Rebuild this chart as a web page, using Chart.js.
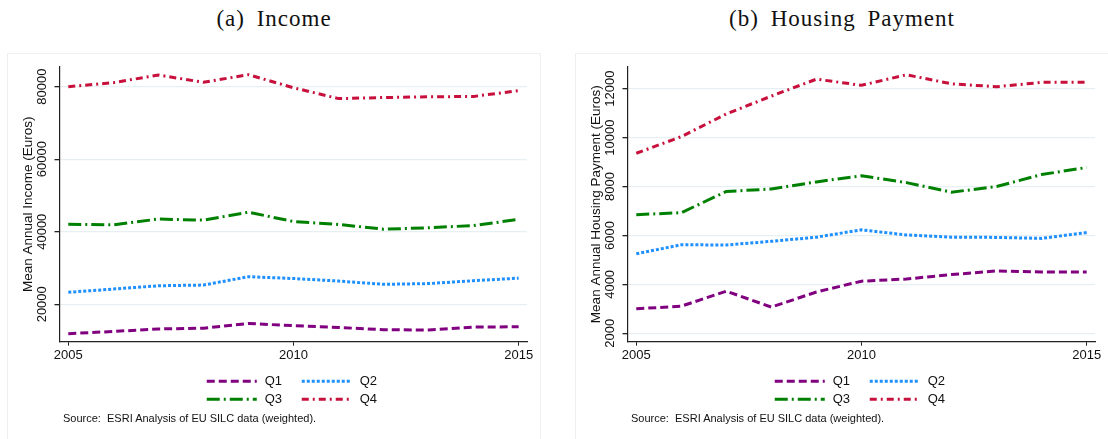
<!DOCTYPE html>
<html>
<head>
<meta charset="utf-8">
<script src="https://cdn.jsdelivr.net/npm/chart.js@4.4.1/dist/chart.umd.min.js"></script>
<style>
  body { margin: 0; width: 1108px; height: 439px; overflow: hidden; background: #fff; position: relative; }
  .title { position: absolute; top: 6px; width: 534px; text-align: center; font-family: "Liberation Serif", serif; font-size: 23px; letter-spacing: 1px; word-spacing: 5px; color: #111; white-space: pre; }
  .panel { position: absolute; top: 53px; width: 534px; height: 400px; border: 1px solid #efefef; box-sizing: border-box; }
  .box { position: absolute; top: 54px; width: 534px; height: 385px; }
  .source { position: absolute; top: 412px; font-family: "Liberation Sans", Arial, sans-serif; font-size: 11px; color: #111; white-space: pre; }
</style>
</head>
<body>
<div class="title" style="left:7px">(a) Income</div>
<div class="title" style="left:575px">(b) Housing Payment</div>
<div class="panel" style="left:7px"></div>
<div class="panel" style="left:575px"></div>
<div class="box" style="left:7px"><canvas id="Income" width="534" height="385"></canvas></div>
<div class="box" style="left:575px"><canvas id="Housing" width="534" height="385"></canvas></div>
<div class="source" style="left:63px">Source:  ESRI Analysis of EU SILC data (weighted).</div>
<div class="source" style="left:631px">Source:  ESRI Analysis of EU SILC data (weighted).</div>
<script>
// data
const years = [2005, 2006, 2007, 2008, 2009, 2010, 2011, 2012, 2013, 2014, 2015];
const xTicks = [2005, 2010, 2015];

const incomeQ1 = [11900, 12500, 13200, 13400, 14700, 14100, 13600, 13000, 12900, 13700, 13800];
const incomeQ2 = [23300, 24200, 25100, 25300, 27600, 27100, 26400, 25500, 25700, 26500, 27200];
const incomeQ3 = [42050, 41900, 43500, 43200, 45400, 42800, 42000, 40700, 41100, 41700, 43400];
const incomeQ4 = [80000, 81100, 83200, 81200, 83300, 79700, 76700, 77000, 77200, 77300, 78900];
const incomeTicks = [20000, 40000, 60000, 80000];

const housingQ1 = [3000, 3110, 3720, 3070, 3690, 4130, 4220, 4400, 4550, 4510, 4510];
const housingQ2 = [5250, 5620, 5610, 5760, 5930, 6230, 6020, 5930, 5920, 5880, 6120];
const housingQ3 = [6850, 6930, 7800, 7900, 8190, 8440, 8160, 7770, 8000, 8490, 8780];
const housingQ4 = [9360, 10040, 10970, 11700, 12390, 12140, 12570, 12200, 12080, 12260, 12260];
const housingTicks = [2000, 4000, 6000, 8000, 10000, 12000];

const FONT = '"Liberation Sans", Arial, sans-serif';
const styles = [
    {label: 'Q1', color: '#800080', dash: [8, 4]},
    {label: 'Q2', color: '#1e90ff', dash: [3, 2]},
    {label: 'Q3', color: '#008000', dash: [13, 4, 2, 4]},
    {label: 'Q4', color: '#c8103c', dash: [7, 4, 2, 4]}
];

// legend in two columns under the plot, like the stata one
const quartileLegend = {
    id: 'quartileLegend',
    afterDraw(chart) {
        const ctx = chart.ctx;
        const area = chart.chartArea;
        const cx = (area.left + area.right) / 2;
        chart.data.datasets.forEach((ds, i) => {
            const x0 = cx + (i % 2 ? 8.5 : -86.5);
            const y = area.bottom + (i < 2 ? 39.5 : 57.5);
            ctx.save();
            ctx.strokeStyle = ds.borderColor;
            ctx.lineWidth = ds.borderWidth;
            ctx.setLineDash(ds.borderDash);
            ctx.beginPath();
            ctx.moveTo(x0, y);
            ctx.lineTo(x0 + 50, y);
            ctx.stroke();
            ctx.setLineDash([]);
            ctx.fillStyle = '#111';
            ctx.font = '13px ' + FONT;
            ctx.textBaseline = 'middle';
            ctx.fillText(ds.label, x0 + 58, y);
            ctx.restore();
        });
    }
};

function makeChart(id, series, ticks, yMin, yMax, yTitle) {
    const datasets = series.map((vals, i) => ({
        label: styles[i].label,
        data: years.map((yr, j) => ({x: yr, y: vals[j]})),
        borderColor: styles[i].color,
        borderDash: styles[i].dash,
        borderWidth: 3,
        borderCapStyle: 'butt',
        pointRadius: 0,
        tension: 0,
        fill: false
    }));
    return new Chart(document.getElementById(id), {
        type: 'line',
        data: {datasets: datasets},
        plugins: [quartileLegend],
        options: {
            responsive: false,
            animation: false,
            layout: {padding: {top: 12.7, right: 14, bottom: 67.3, left: 0}},
            plugins: {legend: {display: false}, tooltip: {enabled: false}},
            scales: {
                x: {
                    type: 'linear',
                    min: 2004.805,
                    max: 2015.185,
                    afterBuildTicks: s => { s.ticks = xTicks.map(v => ({value: v})); },
                    afterFit: s => { s.height = 30; },
                    border: {color: '#222', width: 1.2},
                    grid: {drawOnChartArea: false, drawTicks: true, tickLength: 4, tickColor: '#222'},
                    ticks: {color: '#111', font: {family: FONT, size: 13}, padding: 2, maxRotation: 0,
                        callback: v => String(v)}
                },
                y: {
                    min: yMin,
                    max: yMax,
                    afterBuildTicks: s => { s.ticks = ticks.map(v => ({value: v})); },
                    afterFit: s => { s.width = 52.5; },
                    border: {color: '#222', width: 1.2},
                    grid: {color: '#e6eff2', lineWidth: 1.3, tickLength: 5, tickColor: '#222'},
                    ticks: {color: '#111', font: {family: FONT, size: 13}, minRotation: 90, maxRotation: 90,
                        crossAlign: 'center', padding: -5.5, callback: v => String(v)},
                    title: {display: true, text: yTitle, color: '#111', font: {family: FONT, size: 13.5},
                        padding: {top: 12.9, bottom: 0}}
                }
            }
        }
    });
}

const IncomeChart = makeChart('Income', [incomeQ1, incomeQ2, incomeQ3, incomeQ4], incomeTicks,
    9680, 85500, 'Mean Annual Income (Euros)');
const HousingChart = makeChart('Housing', [housingQ1, housingQ2, housingQ3, housingQ4], housingTicks,
    1656, 12900, 'Mean Annual Housing Payment (Euros)');
</script>
</body>
</html>
